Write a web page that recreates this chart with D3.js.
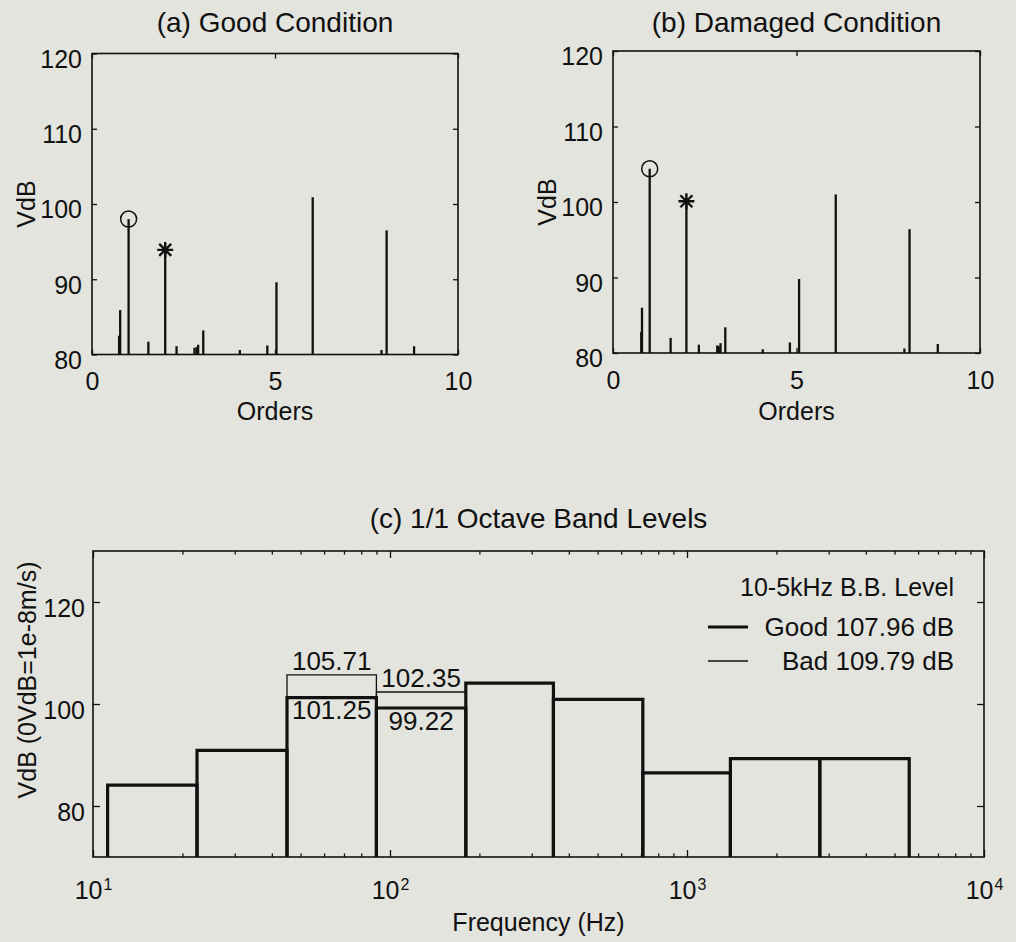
<!DOCTYPE html>
<html><head><meta charset="utf-8">
<script src="https://cdn.jsdelivr.net/npm/d3@7"></script>
<style>
html,body{margin:0;padding:0;background:#e3e4dd;}
svg{display:block;}
text{font-family:"Liberation Sans",Arial,Helvetica,sans-serif;fill:#111;}
</style></head><body>
<svg id="chart" width="1016" height="942"></svg>
<script>
// ---- Data ----
// (a) Good condition: order spectrum spikes
const ordersA = [0.74, 0.77, 1.0, 1.54, 2.0, 2.31, 2.8, 2.86, 2.9, 3.04, 4.04, 4.79, 5.04, 6.03, 7.91, 8.05, 8.8];
const levelsA = [82.5, 85.9, 98.0, 81.7, 93.9, 81.1, 80.9, 81.0, 81.3, 83.2, 80.6, 81.2, 89.6, 100.9, 80.6, 96.5, 81.1];
// (b) Damaged condition
const ordersB = [0.77, 0.79, 1.0, 1.57, 2.0, 2.34, 2.84, 2.88, 2.93, 3.06, 4.08, 4.82, 5.07, 6.07, 7.94, 8.08, 8.85];
const levelsB = [82.8, 86.0, 104.4, 82.0, 100.1, 81.1, 81.0, 80.9, 81.3, 83.4, 80.5, 81.4, 89.8, 101.0, 80.6, 96.4, 81.2];
// marked harmonics: 1st order (circle), 2nd order (star)
const markedOrders = [1, 2];
const markedLevelsA = [98.0, 93.9];
const markedLevelsB = [104.4, 100.1];
const orderTicks = [0, 5, 10];
const spectrumLevelTicks = [80, 90, 100, 110, 120];

// (c) 1/1 octave band levels
const bandEdges = [11.2, 22.4, 45, 90, 180, 355, 710, 1400, 2800, 5600];
const goodLevels = [84.1, 90.9, 101.25, 99.22, 104.1, 100.9, 86.5, 89.3, 89.3];
const badLevels  = [84.1, 90.9, 105.71, 102.35, 104.1, 100.9, 86.5, 89.3, 89.3];
const labelledBands = [2, 3];
const freqTicks = [10, 100, 1000, 10000];
const octaveLevelTicks = [80, 100, 120];
const legendTitle = "10-5kHz B.B. Level";
const legendNames = ["Good 107.96 dB", "Bad 109.79 dB"];

// ---- Drawing ----
const svg = d3.select("#chart");
const ink = "#111";
const FS = 25;

function styleAxis(g) {
  g.select(".domain").remove();
  g.selectAll(".tick line").attr("stroke", ink).attr("stroke-width", 1.3);
  g.selectAll(".tick text").attr("font-size", FS).attr("fill", ink)
    .style("font-family", '"Liberation Sans",Arial,Helvetica,sans-serif');
}

function spectrumPanel(cfg) {
  const x = d3.scaleLinear().domain([0, 10]).range([cfg.x0, cfg.x1]);
  const y = d3.scaleLinear().domain([80, 120]).range([cfg.y0, cfg.y1]);
  const g = svg.append("g");

  // stems
  g.selectAll("line.stem").data(cfg.orders.map((o, i) => [o, cfg.levels[i]]))
    .join("line").attr("class", "stem")
    .attr("x1", d => x(d[0])).attr("x2", d => x(d[0]))
    .attr("y1", y(80)).attr("y2", d => y(d[1]))
    .attr("stroke", ink).attr("stroke-width", 2.3);

  // marker circle (1st order)
  g.append("circle").attr("cx", x(markedOrders[0])).attr("cy", y(cfg.marked[0]))
    .attr("r", 8).attr("fill", "none").attr("stroke", ink).attr("stroke-width", 1.5);
  // marker star (2nd order)
  const sx = x(markedOrders[1]), sy = y(cfg.marked[1]), s = 8;
  const starPath = `M${sx - s},${sy}H${sx + s}M${sx},${sy - s}V${sy + s}` +
    `M${sx - s * 0.75},${sy - s * 0.75}L${sx + s * 0.75},${sy + s * 0.75}` +
    `M${sx - s * 0.75},${sy + s * 0.75}L${sx + s * 0.75},${sy - s * 0.75}`;
  g.append("path").attr("d", starPath).attr("stroke", ink).attr("stroke-width", 2.4).attr("fill", "none");

  // axes
  const bx = g.append("g").attr("transform", `translate(0,${y(80)})`)
    .call(d3.axisBottom(x).tickValues(orderTicks).tickSizeInner(-5).tickSizeOuter(0).tickPadding(18));
  styleAxis(bx);
  const tx = g.append("g").attr("transform", `translate(0,${y(120)})`)
    .call(d3.axisTop(x).tickValues(orderTicks).tickSizeInner(-5).tickSizeOuter(0).tickFormat(""));
  styleAxis(tx);
  const ly = g.append("g").attr("transform", `translate(${x(0)},0)`)
    .call(d3.axisLeft(y).tickValues(spectrumLevelTicks).tickSizeInner(-5).tickSizeOuter(0).tickPadding(10));
  styleAxis(ly);
  ly.selectAll(".tick text").attr("dy", "0.55em");
  const ry = g.append("g").attr("transform", `translate(${x(10)},0)`)
    .call(d3.axisRight(y).tickValues(spectrumLevelTicks).tickSizeInner(-5).tickSizeOuter(0).tickFormat(""));
  styleAxis(ry);

  // frame
  g.append("rect").attr("x", x(0)).attr("y", y(120)).attr("width", x(10) - x(0)).attr("height", y(80) - y(120))
    .attr("fill", "none").attr("stroke", ink).attr("stroke-width", 1.6);

  // labels
  g.append("text").attr("x", (x(0) + x(10)) / 2).attr("y", 22).attr("dy", "0.36em")
    .attr("text-anchor", "middle").attr("font-size", 28).text(cfg.title);
  g.append("text").attr("x", (x(0) + x(10)) / 2).attr("y", 411).attr("dy", "0.36em")
    .attr("text-anchor", "middle").attr("font-size", FS).text("Orders");
  g.append("text").attr("transform", `translate(${cfg.ylabX},${(y(80) + y(120)) / 2}) rotate(-90)`)
    .attr("dy", "0.36em").attr("text-anchor", "middle").attr("font-size", FS).text("VdB");
}

spectrumPanel({x0: 92, x1: 458, y0: 354.5, y1: 53.5, orders: ordersA, levels: levelsA,
  marked: markedLevelsA, title: "(a) Good Condition", ylabX: 26});
spectrumPanel({x0: 613, x1: 980, y0: 353, y1: 51, orders: ordersB, levels: levelsB,
  marked: markedLevelsB, title: "(b) Damaged Condition", ylabX: 547});

// ---- Panel (c) ----
(function () {
  const x = d3.scaleLog().domain([10, 10000]).range([93, 984]);
  const y = d3.scaleLinear().domain([70, 130]).range([857, 551]);
  const g = svg.append("g");

  const bars = goodLevels.map((v, i) => ({e0: bandEdges[i], e1: bandEdges[i + 1], good: v, bad: badLevels[i], i}));
  const barPath = (d, v) => `M${x(d.e0)},${y(70)}V${y(v)}H${x(d.e1)}V${y(70)}`;

  g.selectAll("path.bad").data(bars).join("path").attr("class", "bad")
    .attr("d", d => barPath(d, d.bad)).attr("fill", "none").attr("stroke", ink).attr("stroke-width", 1.3);
  g.selectAll("path.good").data(bars).join("path").attr("class", "good")
    .attr("d", d => barPath(d, d.good)).attr("fill", "none").attr("stroke", ink).attr("stroke-width", 3.2)
    .attr("stroke-linejoin", "miter");

  // value labels
  const lab = bars.filter(d => labelledBands.includes(d.i));
  g.selectAll("text.badlab").data(lab).join("text").attr("class", "badlab")
    .attr("x", d => (x(d.e0) + x(d.e1)) / 2)
    .attr("y", d => y(d.bad) - 14).attr("dy", "0.36em").attr("text-anchor", "middle")
    .attr("font-size", 26).text(d => d.bad.toFixed(2));
  g.selectAll("text.goodlab").data(lab).join("text").attr("class", "goodlab")
    .attr("x", d => (x(d.e0) + x(d.e1)) / 2)
    .attr("y", d => y(d.good) + 12.5).attr("dy", "0.36em").attr("text-anchor", "middle")
    .attr("font-size", 26).text(d => d.good.toFixed(2));

  // minor ticks
  const minor = [];
  [10, 100, 1000].forEach(dec => { for (let k = 2; k <= 9; k++) minor.push(k * dec); });

  const bMaj = g.append("g").attr("transform", `translate(0,${y(70)})`)
    .call(d3.axisBottom(x).tickValues(freqTicks).tickSizeInner(-7).tickSizeOuter(0).tickPadding(24));
  styleAxis(bMaj);
  bMaj.selectAll(".tick text").each(function (d) {
    const t = d3.select(this).text(null);
    t.append("tspan").text("10");
    t.append("tspan").attr("dy", "-0.55em").attr("dx", "1").attr("font-size", 16).text(Math.round(Math.log10(d)));
  });
  const bMin = g.append("g").attr("transform", `translate(0,${y(70)})`)
    .call(d3.axisBottom(x).tickValues(minor).tickSizeInner(-3.5).tickSizeOuter(0).tickFormat(""));
  styleAxis(bMin);
  const tMaj = g.append("g").attr("transform", `translate(0,${y(130)})`)
    .call(d3.axisTop(x).tickValues(freqTicks).tickSizeInner(-7).tickSizeOuter(0).tickFormat(""));
  styleAxis(tMaj);
  const tMin = g.append("g").attr("transform", `translate(0,${y(130)})`)
    .call(d3.axisTop(x).tickValues(minor).tickSizeInner(-3.5).tickSizeOuter(0).tickFormat(""));
  styleAxis(tMin);
  const ly = g.append("g").attr("transform", `translate(${x(10)},0)`)
    .call(d3.axisLeft(y).tickValues(octaveLevelTicks).tickSizeInner(-7).tickSizeOuter(0).tickPadding(8));
  styleAxis(ly);
  ly.selectAll(".tick text").attr("dy", "0.58em");
  const ry = g.append("g").attr("transform", `translate(${x(10000)},0)`)
    .call(d3.axisRight(y).tickValues(octaveLevelTicks).tickSizeInner(-7).tickSizeOuter(0).tickFormat(""));
  styleAxis(ry);

  g.append("rect").attr("x", x(10)).attr("y", y(130)).attr("width", x(10000) - x(10)).attr("height", y(70) - y(130))
    .attr("fill", "none").attr("stroke", ink).attr("stroke-width", 1.6);

  // legend
  g.append("text").attr("x", 954).attr("y", 587).attr("dy", "0.36em").attr("text-anchor", "end")
    .attr("font-size", 25).text(legendTitle);
  const legY = [627, 661];
  const legW = [3.2, 1.3];
  legendNames.forEach((n, i) => {
    g.append("line").attr("x1", 708).attr("x2", 748).attr("y1", legY[i]).attr("y2", legY[i])
      .attr("stroke", ink).attr("stroke-width", legW[i]);
    g.append("text").attr("x", 954).attr("y", legY[i]).attr("dy", "0.36em").attr("text-anchor", "end")
      .attr("font-size", 26).text(n);
  });

  // titles
  g.append("text").attr("x", (x(10) + x(10000)) / 2).attr("y", 518).attr("dy", "0.36em")
    .attr("text-anchor", "middle").attr("font-size", 28).text("(c) 1/1 Octave Band Levels");
  g.append("text").attr("x", (x(10) + x(10000)) / 2).attr("y", 922).attr("dy", "0.36em")
    .attr("text-anchor", "middle").attr("font-size", 25).text("Frequency (Hz)");
  g.append("text").attr("transform", `translate(27,680) rotate(-90)`).attr("dy", "0.36em")
    .attr("text-anchor", "middle").attr("font-size", 25).text("VdB (0VdB=1e-8m/s)");
})();
</script>
</body></html>
